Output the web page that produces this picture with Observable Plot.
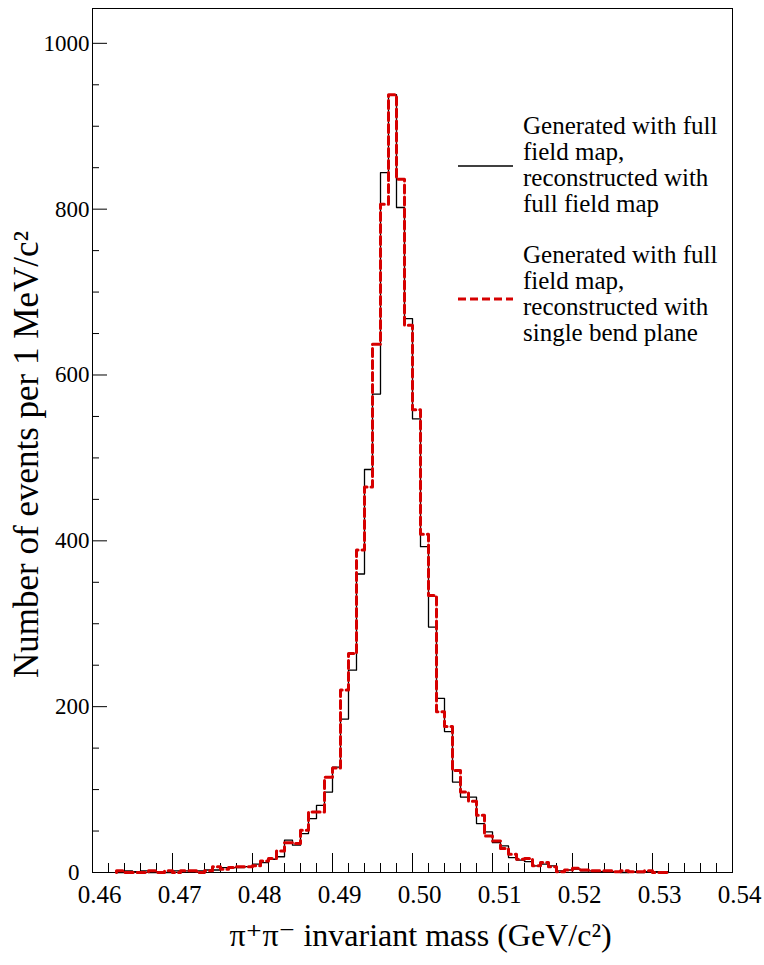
<!DOCTYPE html>
<html><head><meta charset="utf-8">
<script src="https://cdn.jsdelivr.net/npm/d3@7"></script>
<script src="https://cdn.jsdelivr.net/npm/@observablehq/plot@0.6"></script>
<style>html,body{margin:0;padding:0;background:#fff;color:#000;}
svg text{font-family:'Liberation Serif','DejaVu Serif',serif !important;}</style>
</head><body><div id="chart"></div>
<script>
// Bin lower edges in MeV/c^2 (1 MeV bins)
const binLowMeV = [463,464,465,466,467,468,469,470,471,472,473,474,475,476,477,478,479,480,481,482,483,484,485,486,487,488,489,490,491,492,493,494,495,496,497,498,499,500,501,502,503,504,505,506,507,508,509,510,511,512,513,514,515,516,517,518,519,520,521,522,523,524,525,526,527,528,529,530,531];
// Generated with full field map, reconstructed with full field map
const fullFieldMap = [0,2,1,2,0,1,0,2,2,1,2,3,3,6,6,6,7,10,12,16,19,39,33,47,65,81,97,127,185,244,360,486,577,844,938,802,668,547,393,296,210,170,109,91,91,59,49,36,32,18,15,13,8,10,8,2,3,4,2,2,1,1,1,0,1,0,1,1,1];
// Generated with full field map, reconstructed with single bend plane
const singleBendPlane = [2,0,0,0,2,0,2,0,2,2,0,2,7,4,6,7,7,8,14,17,26,36,35,51,73,73,115,126,220,264,389,465,637,806,938,836,660,558,408,334,194,176,123,97,86,69,44,38,29,22,16,17,8,12,7,1,3,5,3,2,2,2,1,2,1,1,2,0,0];

const xTickValues = [0.46,0.47,0.48,0.49,0.50,0.51,0.52,0.53,0.54];
const xTickLabels = ["0.46","0.47","0.48","0.49","0.50","0.51","0.52","0.53","0.54"];
const yTickValues = [0,200,400,600,800,1000];
const yTickLabels = ["0","200","400","600","800","1000"];
const xTitle = "π⁺π⁻ invariant mass (GeV/c²)";
const yTitle = "Number of events per 1 MeV/c²";
const legendEntries = [
  ["Generated with full","field map,","reconstructed with","full field map"],
  ["Generated with full","field map,","reconstructed with","single bend plane"]
];

const W = 764, H = 965, mL = 92, mR = 32, mT = 8, mB = 93;
const innerW = W - mL - mR, innerH = H - mT - mB;
const FONT = "'Liberation Serif', 'DejaVu Serif', serif";
const RED = "#d60000";

function steps(values) {
  const pts = [{x: binLowMeV[0] / 1000, y: 0}];
  values.forEach((v, i) => pts.push({x: binLowMeV[i] / 1000, y: v}));
  pts.push({x: (binLowMeV[binLowMeV.length - 1] + 1) / 1000, y: 0});
  return pts;
}

const xMinor = d3.range(230, 271).filter(d => d % 5 !== 0).map(d => d / 500);
const yMinor = d3.range(0, 1001, 50).filter(d => d % 200 !== 0);
const xLabel = new Map(xTickValues.map((v, i) => [v, xTickLabels[i]]));
const yLabel = new Map(yTickValues.map((v, i) => [v, yTickLabels[i]]));

function legendMark(index, scales, values, dims) {
  const g = d3.create("svg:g").attr("font-size", 25).attr("fill", "black").attr("text-anchor", "start");
  const sampleX1 = 458, sampleX2 = 513, textX = 523;
  const blocks = [
    {lineY: 166, base: 134, stroke: "black", width: 1.3, dash: null},
    {lineY: 299, base: 263, stroke: RED, width: 3, dash: "8,4"}
  ];
  blocks.forEach((b, k) => {
    g.append("line").attr("x1", sampleX1).attr("x2", sampleX2).attr("y1", b.lineY).attr("y2", b.lineY)
      .attr("stroke", b.stroke).attr("stroke-width", b.width).attr("stroke-dasharray", b.dash);
    legendEntries[k].forEach((t, j) => {
      g.append("text").attr("x", textX).attr("y", b.base + j * 26).attr("text-anchor", "start").text(t);
    });
  });
  return g.node();
}

const chart = Plot.plot({
  width: W, height: H,
  marginLeft: mL, marginRight: mR, marginTop: mT, marginBottom: mB,
  style: `font-family: ${FONT}; font-size: 23px; background: white; color: black;`,
  x: {domain: [0.46, 0.54]},
  y: {domain: [0, 1042]},
  marks: [
    Plot.frame({stroke: "black", strokeWidth: 1}),
    Plot.tickX(xTickValues, {x: d => d, insetTop: innerH - 19, stroke: "black", strokeWidth: 1}),
    Plot.tickX(xMinor, {x: d => d, insetTop: innerH - 9, stroke: "black", strokeWidth: 1}),
    Plot.tickY(yTickValues, {y: d => d, insetRight: innerW - 15, stroke: "black", strokeWidth: 1}),
    Plot.tickY(yMinor, {y: d => d, insetRight: innerW - 7, stroke: "black", strokeWidth: 1}),
    Plot.axisX(xTickValues, {tickSize: 0, tickPadding: 13, dx: 7, fontSize: 25, tickFormat: d => xLabel.get(d), label: null}),
    Plot.axisY(yTickValues.filter(d => d !== 0), {tickSize: 0, tickPadding: 3, fontSize: 23, tickFormat: d => yLabel.get(d), label: null}),
    Plot.axisY([0], {tickSize: 0, tickPadding: 13, fontSize: 23, tickFormat: d => yLabel.get(d), label: null}),
    Plot.line(steps(fullFieldMap), {x: "x", y: "y", curve: "step-after", stroke: "black", strokeWidth: 1.3}),
    Plot.line(steps(singleBendPlane), {x: "x", y: "y", curve: "step-after", stroke: RED, strokeWidth: 3, strokeDasharray: "8,4"}),
    Plot.text([xTitle], {frameAnchor: "bottom", textAnchor: "middle", dx: 8, dy: 73, fontSize: 32, text: d => d, fill: "black"}),
    Plot.text([yTitle], {frameAnchor: "left", textAnchor: "middle", rotate: -90, dx: -65.5, dy: 14, fontSize: 35, text: d => d, fill: "black"}),
    legendMark
  ]
});
document.getElementById("chart").appendChild(chart);
</script>
</body></html>
